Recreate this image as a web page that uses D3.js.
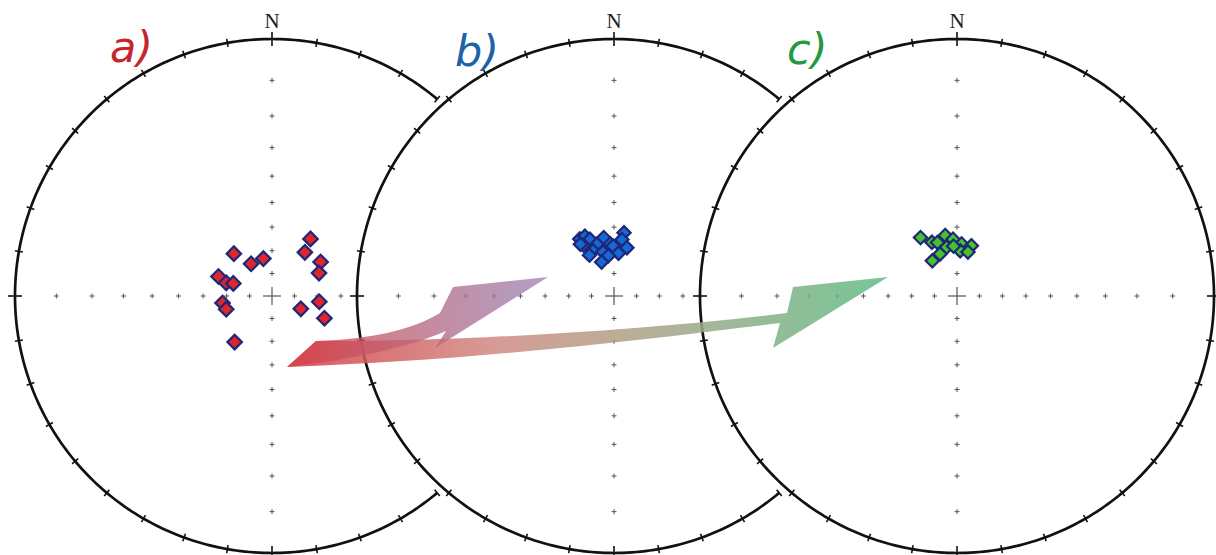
<!DOCTYPE html>
<html lang="en">
<head>
<meta charset="utf-8">
<title>Stereonets a b c</title>
<script src="https://d3js.org/d3.v7.min.js"></script>
<style>
  body { margin: 0; background: #fff; }
  .grid { stroke: #555; stroke-width: 1; }
  .prim { fill: none; stroke: #111; stroke-width: 2.7px; }
  .tick { stroke: #111; stroke-width: 1.6px; }
</style>
</head>
<body>
<div id="chart"></div>
<script>
// net labels and colours
var labels = ["a)", "b)", "c)"];
var labelColors = ["#c8242c", "#1c62a8", "#239a3c"];
var pointFills = ["#e0262a", "#1668d4", "#48c22a"];

// poles as [trend, plunge] in degrees
var polesA = [[34, 60], [318, 65], [37, 66], [327, 73], [347, 73], [55, 64], [64, 67],
  [290, 65], [286, 69], [288, 72], [262, 68], [254, 69], [114, 76], [97, 69], [113, 65], [219, 64]];
var polesB = [[329, 61], [334, 61], [337, 63], [329, 64], [342, 66], [350, 64], [356, 67],
  [9, 62], [8, 65], [335, 68], [346, 70], [359, 68], [15, 68], [6, 71], [352, 72], [340, 74],
  [329, 69], [327, 63]];
var polesC = [[328, 60], [335, 64], [340, 65], [349, 63], [356, 65], [5, 67], [16, 67],
  [348, 68], [338, 70], [325, 71], [4, 70], [356, 68], [14, 70]];
var poles = [polesA, polesB, polesC];

// grid crosses along the cardinal axes, degrees from the centre
var gridAngles = [10, 20, 30, 40, 50, 60, 70, 80];
var tickAzimuths = d3.range(0, 360, 10);
// drawn part of each primitive circle (azimuth from, to)
var arcRanges = [[140, 400], [140, 400], [0, 360]];

var width = 1216, height = 555;
var R = 257;
var centers = [272, 614, 957];
var cy = 296;

var svg = d3.select("#chart").append("svg")
  .attr("width", width)
  .attr("height", height);

// stereographic radius: angle from centre -> pixels
var rScale = d3.scaleLinear().domain([0, 1]).range([0, R]);
function radius(fromCentre) { return rScale(Math.tan(fromCentre * Math.PI / 360)); }
function project(trend, plunge) {
  var r = radius(90 - plunge), t = trend * Math.PI / 180;
  return [r * Math.sin(t), -r * Math.cos(t)];
}

var rad = Math.PI / 180;

centers.forEach(function (cx, i) {
  var g = svg.append("g").attr("transform", "translate(" + cx + "," + cy + ")");

  // white disk hides the net underneath
  g.append("circle").attr("r", R).attr("fill", "#fff");

  // grid crosses
  var spots = [[0, 0, 9]];
  gridAngles.forEach(function (a) {
    var r = radius(a);
    spots.push([r, 0, 2.5], [-r, 0, 2.5], [0, r, 2.5], [0, -r, 2.5]);
  });
  spots.forEach(function (s) {
    g.append("line").attr("class", "grid").attr("x1", s[0] - s[2]).attr("x2", s[0] + s[2])
      .attr("y1", s[1]).attr("y2", s[1]).style("stroke-width", s[2] > 5 ? 1.2 : 1);
    g.append("line").attr("class", "grid").attr("x1", s[0]).attr("x2", s[0])
      .attr("y1", s[1] - s[2]).attr("y2", s[1] + s[2]).style("stroke-width", s[2] > 5 ? 1.2 : 1);
  });

  // primitive circle
  var range = arcRanges[i];
  var angs = d3.range(range[0], range[1] + 0.5, 1).map(function (d) { return d * rad; });
  g.append("path").attr("class", "prim")
    .attr("d", d3.lineRadial().angle(function (d) { return d; }).radius(R)(angs));

  // ticks every 10 degrees
  tickAzimuths.forEach(function (az) {
    var a = az;
    if (range[1] < 360 + range[0] && !(a >= range[0] || a + 360 <= range[1])) return;
    var len = (az % 90 === 0) ? 7 : 4;
    var s = Math.sin(az * rad), c = -Math.cos(az * rad);
    g.append("line").attr("class", "tick")
      .attr("x1", (R - len) * s).attr("y1", (R - len) * c)
      .attr("x2", (R + len) * s).attr("y2", (R + len) * c);
  });

  // north label
  g.append("text").attr("x", 0).attr("y", -R - 11)
    .attr("text-anchor", "middle")
    .style("font-family", "'Liberation Serif', 'DejaVu Serif', serif")
    .style("font-size", "21px").style("fill", "#222")
    .text("N");

  // poles
  g.selectAll("path.pole").data(poles[i]).enter().append("path")
    .attr("class", "pole")
    .attr("d", d3.symbol(d3.symbolSquare, i === 0 ? 105 : 88)())
    .attr("transform", function (d) {
      var p = project(d[0], d[1]);
      return "translate(" + p[0] + "," + p[1] + ") rotate(45)";
    })
    .attr("fill", pointFills[i])
    .attr("stroke", "#1e2878")
    .attr("stroke-width", 2.2);
});

// labels
var labelPos = [[110, 62], [455, 66], [787, 64]];
labels.forEach(function (t, i) {
  svg.append("text").attr("x", labelPos[i][0]).attr("y", labelPos[i][1])
    .style("font-family", "'DejaVu Sans', sans-serif")
    .style("font-style", "italic")
    .style("font-size", "43px")
    .style("fill", labelColors[i])
    .text(t);
});

// arrows from a to b and from a to c
var defs = svg.append("defs");
function grad(id, stops) {
  var lg = defs.append("linearGradient").attr("id", id)
    .attr("gradientUnits", "userSpaceOnUse")
    .attr("x1", 287).attr("y1", 0).attr("x2", stops.x2).attr("y2", 0);
  stops.c.forEach(function (s) {
    lg.append("stop").attr("offset", s[0]).attr("stop-color", s[1]);
  });
}
grad("gPurple", { x2: 548, c: [[0, "#d83c44"], [0.45, "#bb6478"], [1, "#9a84b8"]] });
grad("gGreen", { x2: 888, c: [[0, "#d83c44"], [0.35, "#d08c84"], [0.6, "#aaa488"], [1, "#5fbd86"]] });

var arrowGreen = "M287,367 L316,341 C430,342 620,333 787,313 L793,287 L888,277 L773,348 L780,323 " +
  "C640,340 480,360 287,367 Z";
var arrowPurple = "M287,367 L316,341 C372,339 412,330 440,313 L453,287 L548,277 L435,348 L446,331 " +
  "C410,347 350,360 287,367 Z";

svg.append("path").attr("d", arrowGreen).attr("fill", "url(#gGreen)").attr("opacity", 0.86);
svg.append("path").attr("d", arrowPurple).attr("fill", "url(#gPurple)").attr("opacity", 0.78);
</script>
</body>
</html>
